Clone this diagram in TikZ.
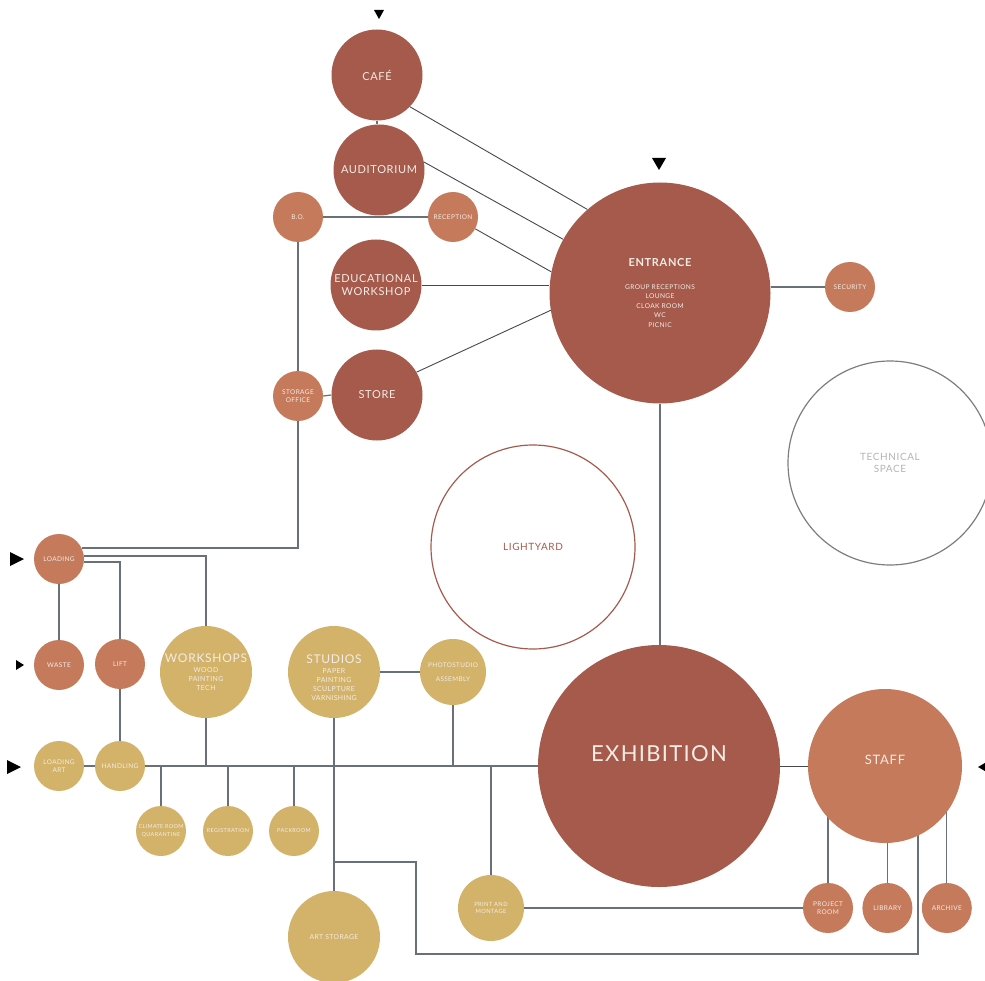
\documentclass[tikz,border=0pt]{standalone}
\usepackage{fontspec}
\setmainfont{Lato}[LetterSpace=6]
\usepackage{tikz}
\usetikzlibrary{positioning,backgrounds,calc}
\definecolor{brick}{HTML}{A55A4C}
\definecolor{clay}{HTML}{C47A5B}
\definecolor{ochre}{HTML}{D3B36A}
\definecolor{paper}{HTML}{F4ECE5}
\definecolor{wire}{HTML}{6A7078}
\definecolor{spokecol}{HTML}{45484D}
\definecolor{rim}{HTML}{7D7D7D}
\definecolor{mist}{HTML}{B4B4B4}
\tikzset{
    room/.style={
        circle,
        inner sep=0pt,
        minimum size=#1,
        align=center,
        text=paper
    },
    hall/.style={room=91, fill=brick, font=\fontsize{11}{13}\selectfont},
    desk/.style={room=50, fill=clay, font=\fontsize{6.5}{8.5}\selectfont},
    lab/.style={room=92, fill=ochre, font=\fontsize{6.9}{9.2}\selectfont},
    bay/.style={room=50, fill=ochre, font=\fontsize{6.5}{8.5}\selectfont},
    void/.style={room=204, draw, line width=1.2pt, font=\fontsize{10}{12}\selectfont},
    link/.style={draw=wire, line width=1.2pt},
    spoke/.style={draw=spokecol, line width=0.9pt}
}
\newcommand{\roomhead}[1]{{\fontsize{12}{14}\selectfont #1}}
\newcommand{\tiptxt}[1]{{\fontsize{5.5}{7}\selectfont #1}}

\begin{document}
\begin{tikzpicture}[x=1pt, y=-1pt]
    \useasboundingbox (0,0) rectangle (985,981);
    % public wing
    \node[hall] (cafe) at (377,75) {CAFÉ};
    \node[hall] (auditorium) at (379,170) {AUDITORIUM};
    \node[hall] (edu) at (376,285) {EDUCATIONAL\\WORKSHOP};
    \node[hall] (store) at (377,395) {STORE};
    \node[desk] (bo) at (298,217) {B.O.};
    \node[desk] (reception) at (453,217) {RECEPTION};
    \node[desk] (storage) at (298,396) {STORAGE\\OFFICE};
    \node[room=221, fill=brick, font=\fontsize{6.6}{9.5}\selectfont] (entrance) at (660,293)
        {{\fontsize{11}{13}\selectfont\bfseries ENTRANCE}\\[13pt]GROUP RECEPTIONS\\LOUNGE\\CLOAK ROOM\\WC\\PICNIC};
    \node[desk] (security) at (850,287) {SECURITY};
    \node[void, draw=rim, text=mist] (technical) at (890,463) {TECHNICAL\\SPACE};
    \node[void, draw=brick, text=brick] (lightyard) at (533,547) {LIGHTYARD};
    % exhibition and staff
    \node[room=242, fill=brick,
        label={[text=paper, font=\fontsize{22}{24}\selectfont, yshift=12pt]center:EXHIBITION}]
        (exhibition) at (659,766) {};
    \node[room=154, fill=clay,
        label={[text=paper, font=\fontsize{13}{15}\selectfont, yshift=6pt]center:STAFF}]
        (staff) at (885,766) {};
    \node[desk] (project) at (828,908) {PROJECT\\ROOM};
    \node[desk, right=9pt of project] (library) {LIBRARY};
    \node[desk, right=9pt of library] (archive) {ARCHIVE};
    % art handling wing
    \node[desk] (loading) at (59,559) {LOADING};
    \node[desk] (waste) at (59,665) {WASTE};
    \node[desk] (lift) at (120,664) {LIFT};
    \node[lab] (workshops) at (206,672) {\roomhead{WORKSHOPS}\\[1pt]WOOD\\PAINTING\\TECH};
    \node[lab] (studios) at (334,672) {\rule{0pt}{20pt}\roomhead{STUDIOS}\\[1pt]PAPER\\PAINTING\\SCULPTURE\\VARNISHING};
    \node[room=66, fill=ochre, font=\fontsize{6.4}{8.5}\selectfont] (photo) at (453,672) {PHOTOSTUDIO\\[5pt]ASSEMBLY};
    \node[bay] (loadart) at (59,766) {LOADING\\ART};
    \node[bay] (handling) at (120,766) {HANDLING};
    \node[bay] (climate) at (161,831) {\tiptxt{CLIMATE ROOM}\\[-1pt]\tiptxt{QUARANTINE}};
    \node[bay] (registration) at (228,831) {\tiptxt{REGISTRATION}};
    \node[bay] (packroom) at (294,831) {\tiptxt{PACKROOM}};
    \node[room=92, fill=ochre, font=\fontsize{6.8}{8}\selectfont] (artstore) at (334,937) {ART STORAGE};
    \node[room=66, fill=ochre, font=\fontsize{5.8}{7}\selectfont] (print) at (491,908) {PRINT AND\\MONTAGE};
    \coordinate (bendA) at (416,862);
    \coordinate (bendB) at (918,954);

    % entry marks
    \fill (379,19) -- (374,10) -- (384,10) -- cycle;
    \fill (659,170) -- (652,158) -- (666,158) -- cycle;
    \fill (24,559) -- (10,552) -- (10,566) -- cycle;
    \fill (24,665) -- (16,660) -- (16,670) -- cycle;
    \fill (21,767) -- (7,760) -- (7,774) -- cycle;
    \fill (978,767) -- (990,760) -- (990,774) -- cycle;

    \begin{scope}[on background layer]
        \draw[spoke] (cafe.-44) -- (entrance.131);
        \draw[spoke] (auditorium.10) -- (entrance.151);
        \draw[spoke] (reception.-28) -- (entrance.169);
        \draw[spoke] (edu.east) -- (edu.east -| entrance.west);
        \draw[spoke] (store.30) -- (entrance.-171);
        \draw[link] (cafe.south) -- (cafe.south |- auditorium.north);
        \draw[link] (bo.east) -- (reception.west);
        \draw[link] (bo.south) -- (storage.north);
        \draw[link] (storage.east) -- (store.west);
        \draw[link] (storage.south) |- (loading.26);
        \draw[link] (loading.7) -| (workshops.north);
        \draw[link] (loading.-7) -| (lift.north);
        \draw[link] (loading.south) -- (waste.north);
        \draw[link] (lift.south) -- (handling.north);
        \draw[link] (loadart.east) -- (handling.west);
        \draw[link] (handling.east) -- (handling.east -| exhibition.west);
        \draw[link] (workshops.south) -- (workshops.south |- handling.east);
        \draw[link] (climate.north) -- (climate.north |- handling.east);
        \draw[link] (registration.north) -- (registration.north |- handling.east);
        \draw[link] (packroom.north) -- (packroom.north |- handling.east);
        \draw[link] (studios.south) -- (artstore.north);
        \draw[link] (studios.east) -- (photo.west);
        \draw[link] (photo.south) -- (photo.south |- handling.east);
        \draw[link] (print.north) -- (print.north |- handling.east);
        \draw[link] (print.east) -- (project.west);
        \draw[link] (entrance.south) -- (entrance.south |- exhibition.north);
        \draw[link] (security.west) -- (security.west -| entrance.east);
        \draw[spoke] (exhibition.east) -- (staff.west);
        \draw[link] (project.north) -- (project.north |- staff.center);
        \draw[link] (library.north) -- (library.north |- staff.center);
        \draw[link] (archive.north) -- (archive.north |- staff.center);
        \draw[link] (studios.south |- bendA) -- (bendA) |- (bendB) -- (bendB |- staff.center);
    \end{scope}
\end{tikzpicture}
\end{document}
